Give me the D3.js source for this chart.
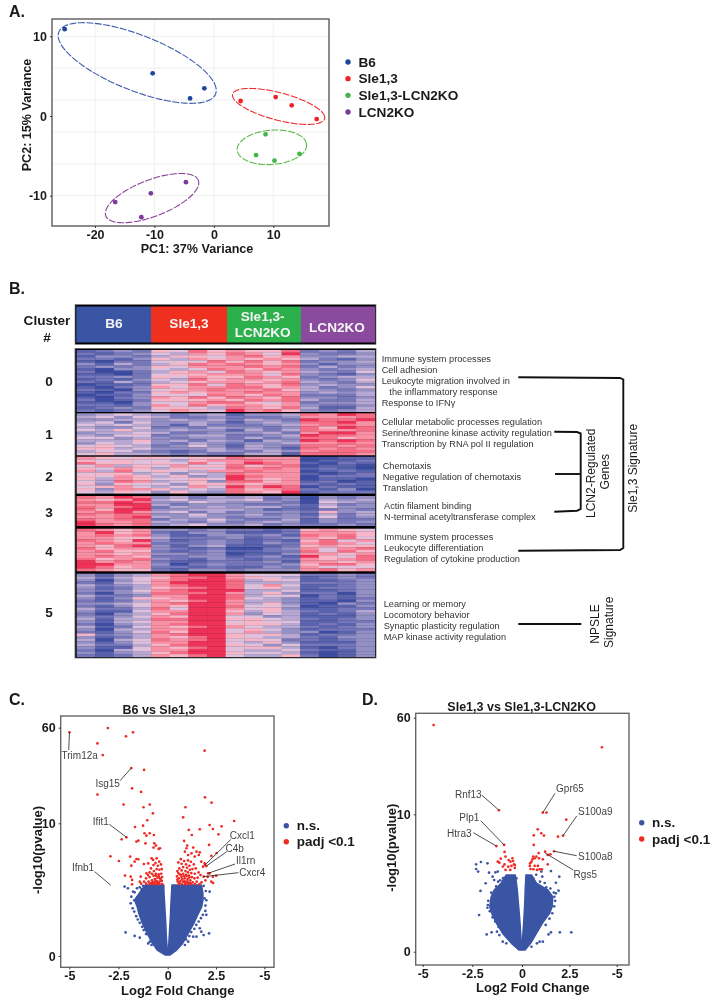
<!DOCTYPE html>
<html><head><meta charset="utf-8">
<script src="https://cdn.jsdelivr.net/npm/d3@7"></script>
<style>
html,body{margin:0;padding:0;background:#fff}
svg{display:block;font-family:"Liberation Sans",Arial,sans-serif;filter:blur(0.35px)}
</style></head><body>
<svg id="chart" width="717" height="1000"></svg>
<script>
// ---------- Panel A data ----------
const pcaGroups = ["B6","Sle1,3","Sle1,3-LCN2KO","LCN2KO"];
const pcaColors = ["#1f459f","#ee2326","#43b649","#7d3a98"];
const pcaEllipseColors = ["#3f5bab","#ee2c2c","#5cbb4a","#8d3f9c"];
const pc1 = [[-25.1,-10.3,-4.0,-1.6],[4.5,10.4,13.1,17.3],[8.7,7.1,10.2,14.4],[-4.7,-10.6,-16.6,-12.2]];
const pc2 = [[10.9,5.35,2.2,3.47],[1.88,2.38,1.34,-0.38],[-2.3,-4.9,-5.6,-4.75],[-8.3,-9.7,-10.8,-12.7]];
const ellipseCx = [-12.9,10.9,9.76,-10.4];
const ellipseCy = [6.65,1.2,-3.93,-10.3];
const ellipseW = [13.3,7.77,5.84,7.86];
const ellipseH = [5.06,2.26,2.17,3.09];
const ellipseRho = [-0.68,-0.62,0.12,0.62];
const pcaXTicks = [-20,-10,0,10];
const pcaYTicks = [-10,0,10];
const pcaYGrid = [-10,-6,-2,2,6,10];

// ---------- Panel B data ----------
const headerLabels = [["B6"],["Sle1,3"],["Sle1,3-","LCN2KO"],["LCN2KO"]];
const headerColors = ["#3b55a5","#f0301f","#2bb04c","#8a4b9f"];
const clusterNames = ["0","1","2","3","4","5"];
const heatCluster0 = ["1232 6586 7668 2324","2123 5476 8759 3223","1332 4665 7867 3344","2213 6476 7676 4213","1022 5558 6868 2334","3142 4687 8767 3133","2323 6577 7878 2423","1033 5458 7687 3234","2002 4675 8767 4325","1102 5667 7758 3213","2232 6576 6876 2344","1213 5486 7767 3235","2142 4567 7678 4324","0112 6685 8768 3433","1023 7577 8867 4235","2103 5678 7786 4323","1022 6767 7877 3434","0113 5558 7687 2224","1023 7686 8768 3323","2012 6667 6878 4224","1103 5578 8657 2334","2213 7586 7767 3223","1232 6654 8768 4114","2123 5765 9786 3234"];
const heatCluster1 = ["3454 3234 1334 8798","4535 4223 2223 7778","3344 3434 2432 9889","4525 3343 1343 8897","5454 3142 2234 7887","4335 2324 3323 8698","5464 3433 1424 8778","3445 4223 3342 7997","4355 2344 2234 9887","5534 3233 2423 8867","4446 3424 3143 9898","3545 3243 2334 7787","5654 2353 1432 8878","6645 3334 2431 8787","4553 2124 3243 7888","5644 3232 2441 8887"];
const heatCluster2 = ["7656 6566 8777 0011","6565 5467 7877 0112","8665 6585 7987 1021","5746 5756 8678 0110","6576 4665 8787 1210","7485 6547 7877 0121","5664 5354 8777 1012","6576 4634 9877 0222","6476 5565 9767 0110","5487 4563 8867 1201","6365 5366 7677 2121","5675 4575 9798 0211","6377 6454 8678 2130","5465 3643 8769 1222"];
const heatCluster3 = ["8798 3424 3423 0323","7679 4534 4523 0434","8898 3354 3332 0543","7799 4233 3223 1423","8789 2434 3442 1533","8699 3344 4312 1232","7897 4524 2333 2634","8788 3353 3423 1424","7789 4343 2333 2523","8788 2435 3224 1322","9778 4324 2343 1323","9878 3453 3423 2232"];
const heatCluster4 = ["8767 3323 2212 6765","7967 2133 1112 7776","7878 3113 3231 8786","7766 4222 3123 7685","8769 3123 2121 6857","7877 2223 2132 7875","7689 3134 1112 6766","8677 3212 0023 7578","7866 2123 1122 8586","7767 3323 0113 7767","7876 2233 1231 9658","8678 3213 2122 7678","9787 2112 2231 7767","9977 3023 2223 6886","9867 2212 1132 7555","8766 2133 2333 7867"];
const heatCluster5 = ["3134 7899 7555 2232","4245 6889 7654 1232","3035 7899 8465 1123","2145 7999 8444 2223","4234 7899 8575 1123","3124 6789 8564 1223","3235 7899 9445 1123","2034 8889 7463 2203","4223 7799 8455 0213","3136 6799 8543 1212","2124 7689 7443 1103","3345 7899 7463 1032","2135 7699 8554 0113","4224 8599 7563 1122","3115 7799 6464 2124","2034 6899 7354 1213","3235 7699 5534 1113","4144 8899 6654 2123","3145 7799 5655 1122","2034 7899 6664 1213","4125 7689 7544 2123","3044 7799 5653 1222","2135 8699 5743 3013","6234 7899 6564 1223","3124 7689 6544 2133","4045 8789 5652 2123","3135 7799 5463 1113","4224 6899 6535 2223","3115 7689 5664 1023","2045 7799 5445 2113","3134 6899 6554 1013","2124 7689 5446 2013"];
const heatLevels = [0,1,2,3,4,5,6,7,8,9];
const heatColors = ["#3d4ea4","#5a63ae","#7676ba","#9490c5","#b7a8d3","#dfc1dd","#f6b6c8","#f991a6","#f66e86","#ef3058"];
const goTerms = [
 ["Immune system processes","Cell adhesion","Leukocyte migration involved in","   the inflammatory response","Response to IFNγ"],
 ["Cellular metabolic processes regulation","Serine/threonine kinase activity regulation","Transcription by RNA pol II regulation"],
 ["Chemotaxis","Negative regulation of chemotaxis","Translation"],
 ["Actin filament binding","N-terminal acetyltransferase complex"],
 ["Immune system processes","Leukocyte differentiation","Regulation of cytokine production"],
 ["Learning or memory","Locomotory behavior","Synaptic plasticity regulation","MAP kinase activity regulation"]];

// ---------- Panels C, D data ----------
const volcanoXTicks = [-5,-2.5,0,2.5,5];
const volcanoXTickLabels = ["-5","-2.5","0","2.5","-5"];
const volcanoYTicks = [0,10,60];
const cMassY = [5.35,4.72,4.22,3.72,3.22,2.46,1.71,0.95,0.45,0.08];
const cMassLeftOuter = [-1.13,-1.45,-1.68,-1.55,-1.47,-1.28,-1.04,-0.77,-0.53,-0.14];
const cMassLeftInner = [-0.2,-0.19,-0.17,-0.15,-0.13,-0.1,-0.08,-0.05,-0.02,0];
const cMassRightInner = [0.22,0.2,0.18,0.16,0.15,0.12,0.09,0.06,0.02,0];
const cMassRightOuter = [1.74,1.82,1.82,1.76,1.59,1.35,1.06,0.77,0.46,0.12];
const cBlue = [[-2.14,1.78],[-1.68,1.51],[-1.42,1.38],[-0.91,1.08],[-0.82,0.83],[-0.99,0.95],[1.66,2.09],[1.74,1.83],[1.86,1.58],[2.14,1.71],[1.49,1.46],[1.32,1.46],[1.06,1.08],[0.89,0.83],[-2.19,5.23],[-2.02,5.1],[-1.76,4.85],[-1.85,4.47],[-1.59,4.1],[-1.88,3.97],[1.97,4.9],[2.17,4.85],[1.74,5.1],[1.91,4.35],[-1.56,5.1],[-1.68,4.8],[-1.42,5.18],[-1.25,5.28],[1.86,5.28],[1.57,5.28],[1.66,5.1],[-1.3,4.9],[-1.45,4.55],[-1.7,4.2],[2.0,4.2],[1.95,3.8],
[-1.78,3.6],[-1.7,3.35],[-1.6,3.0],[-1.52,2.75],[-1.42,2.5],[-1.3,2.2],[-1.22,1.95],[-1.1,1.65],[1.95,3.4],[1.82,3.1],[1.72,2.85],[1.6,2.6],[1.48,2.35],[1.38,2.05],[1.22,1.8],[1.12,1.5],[0.95,1.25],[-0.85,1.3],[2.0,3.1],[-1.55,4.4],[-1.33,5.05],[1.45,5.25],[1.3,5.28],[-1.1,5.25]];
const cRed = [[-4.99,57.6],[-3.04,59.8],[-2.12,55.5],[-1.76,57.6],[-3.57,51.8],[1.91,48],[-3.3,45.7],[-1.85,38.9],[-1.2,37.9],[-1.81,28.3],[-1.35,26.4],[-3.57,25],[1.93,23.6],[2.27,20.8],[-2.24,19.8],[-1.23,18.4],[-0.91,19.8],[0.92,18.4],[-0.75,15.2],[0.8,13.1],[3.44,11.2],[-1.04,11.6],
[-1.25,9.82],[-1.66,9.72],[2.79,9.77],[2.17,9.87],[2.34,9.57],[1.09,9.5],[1.66,9.55],[1.25,9.12],[2.63,9.17],[-2.1,8.94],[-2.34,8.79],[-1.18,9.25],[-0.91,9.25],[-0.7,9.12],[-1.08,9.07],[-1.59,8.62],[-1.49,8.69],[-1.13,8.49],[-0.68,8.49],[-0.6,8.32],[-0.72,8.17],[-0.46,8.07],[-0.39,8.12],[1.01,8.32],[0.85,8.67],[2.14,8.37],[1.32,8.17],[1.49,7.86],[1.66,7.81],[2.53,7.76],[2.26,7.54],[0.97,8.12],[1.23,7.74],[0.89,7.86],[1.06,7.61],[1.4,7.49],[1.61,7.61],[-2.91,7.51],[-1.91,7.49],[-2.48,7.16],[-1.59,7.31],[-1.49,7.29],[-1.68,7.11],[-1.85,6.81],[-2.17,6.06],[-1.88,5.98],[-1.81,5.73],[-1.81,5.4],[-1.37,5.98],[-1.42,5.6],[-1.21,6.93],[-1.08,6.23],[-0.99,6.98],[-0.82,7.36],[-0.74,7.24],[-0.56,7.36],[-0.43,7.11],
[2.51,6.05],[2.34,5.98],[2.07,5.96],[2.17,6.23],[1.74,7.11],[1.91,6.98],[1.83,6.73],[1.93,6.86],[2.0,6.78],[2.09,6.23],[1.86,5.98],[2.26,5.6],[2.35,5.5],[1.75,5.55],[1.95,5.7],[1.55,5.9],[1.6,6.3],[1.7,6.1],[1.45,6.6],[1.35,6.9],[1.2,7.1],[1.05,7.2],[0.85,7.15],[0.68,7.3],[0.55,7.05],[0.72,6.95],[0.95,6.9],[1.12,6.8],[1.28,6.55],[1.15,6.5],[1.0,6.65],[0.8,6.7],[0.6,6.6],[0.5,6.4],[0.72,6.45],[0.92,6.4],[1.05,6.3],[1.22,6.25],[1.4,6.2],[1.5,5.6],[1.38,5.85],[1.25,5.95],[1.1,6.05],[0.95,6.12],[0.8,6.2],[0.62,6.15],[0.48,6.0],[0.58,5.85],[0.72,5.95],[0.88,5.85],[1.03,5.8],[1.17,5.7],[1.3,5.55],[1.1,5.5],[0.95,5.55],[0.8,5.6],[0.66,5.65],[0.52,5.6],[0.58,5.42],[0.74,5.42],[0.9,5.42],[1.05,5.42],[1.2,5.42],[1.42,5.42],[1.65,5.42],
[-1.35,5.45],[-1.2,5.6],[-1.1,5.85],[-1.0,6.1],[-0.92,6.3],[-0.85,6.6],[-0.72,6.85],[-0.62,7.0],[-0.5,6.8],[-0.34,6.9],[-0.3,6.55],[-0.42,6.5],[-0.56,6.55],[-0.7,6.4],[-0.8,6.2],[-0.92,5.95],[-0.72,6.05],[-0.6,6.2],[-0.46,6.15],[-0.33,6.2],[-0.28,5.95],[-0.4,5.85],[-0.52,5.9],[-0.66,5.8],[-0.8,5.7],[-0.97,5.6],[-1.1,5.45],[-0.92,5.42],[-0.78,5.42],[-0.66,5.55],[-0.55,5.62],[-0.42,5.6],[-0.3,5.65],[-0.28,5.42],[-0.42,5.42],[-0.55,5.42],[-0.68,5.42],
[0.5,5.75],[0.62,5.52],[0.75,5.78],[0.88,5.62],[1.02,5.62],[1.16,5.52],[0.85,6.02],[0.98,6.02],[0.7,6.1],[0.55,6.25],[1.12,5.92],[-0.5,5.5],[-0.62,5.72],[-0.75,5.55],[-0.35,5.75],[-0.45,6.0],[-0.6,6.05],[-0.85,5.5]];
const cLabels = ["Trim12a","Isg15","Ifit1","Ifnb1","Cxcl1","C4b","Il1rn","Cxcr4"];
const cTipX = [-4.99,-1.85,-2.09,-2.89,1.93,2.0,2.09,1.86];
const cTipY = [57.6,38.9,8.94,5.33,6.86,6.78,6.23,5.98];
const dMassY = [5.58,4.98,4.49,4.0,3.28,2.79,2.06,1.33,0.61,0.12];
const dMassLeftOuter = [-0.79,-1.05,-1.4,-1.55,-1.62,-1.52,-1.28,-0.97,-0.53,-0.14];
const dMassLeftInner = [-0.34,-0.28,-0.24,-0.21,-0.17,-0.14,-0.1,-0.07,-0.03,0];
const dMassRightInner = [0.21,0.19,0.17,0.16,0.14,0.12,0.09,0.05,0.02,0];
const dMassRightOuter = [0.5,0.76,1.36,1.62,1.59,1.45,1.07,0.76,0.45,0.16];
const dBlue = [[-2.31,6.36],[-2.07,6.53],[-2.31,6.02],[-2.21,5.83],[-1.66,5.75],[-1.74,6.43],[-1.34,5.78],[-1.22,5.83],[-1.48,5.46],[-1.4,5.22],[-1.83,4.98],[-2.09,4.42],[-1.74,3.2],[-2.16,2.67],[-1.53,1.41],[-1.78,1.26],[-1.26,1.46],[-1.14,1.21],[-0.97,0.73],[-0.79,0.61],[1.53,1.41],[1.4,1.26],[2.0,1.41],[2.6,1.41],[1.1,0.73],[0.93,0.73],[0.79,0.61],[0.5,0.36],[1.53,5.87],[1.07,5.46],[1.97,5.46],[1.79,5.02],[1.93,4.44],[1.71,4.0],[1.28,4.68],[1.02,5.83],[-0.28,5.34],[-0.45,5.22],[-0.74,5.29],[0.41,5.46],[0.59,5.34],[1.28,4.25],[1.79,4.25],[-1.2,5.1],[0.75,5.6],[0.95,5.1],
[-1.3,4.75],[-1.55,4.3],[-1.7,3.7],[-1.72,3.4],[-1.62,2.95],[-1.48,2.5],[-1.35,2.2],[-1.18,1.8],[1.2,5.0],[1.5,4.6],[1.68,4.3],[1.75,3.7],[1.7,3.3],[1.6,2.8],[1.45,2.4],[1.25,1.95],[-0.95,5.35],[-1.1,5.2]];
const dRed = [[-4.45,56.2],[4.22,44.7],[-1.16,12.1],[1.10,10.9],[1.29,10.9],[2.34,9.61],[0.83,8.91],[1.02,8.62],[1.16,8.45],[0.62,8.47],[1.9,8.37],[2.17,8.45],[0.62,7.77],[-0.9,7.77],[-1.29,7.69],[1.69,7.31],[1.22,7.28],[0.88,7.18],[-0.88,7.26],[1.36,7.04],[1.5,7.09],[1.1,6.72],[0.76,6.92],[0.59,6.92],[0.67,6.8],[0.55,6.72],[0.43,6.43],[0.41,6.24],[0.5,6.55],[0.9,6.8],[1.36,6.36],[1.05,6.0],[0.67,6.24],[0.84,6.24],[0.45,6.02],[0.6,6.0],[0.79,5.95],[0.93,6.0],[-1.07,6.77],[-1.14,6.48],[-1.22,6.55],[-0.83,6.92],[-0.67,6.67],[-0.48,6.8],[-0.45,6.6],[-0.58,6.55],[-0.4,6.36],[-0.53,6.24],[-0.36,6.31],[-0.88,6.36],[-0.69,6.19],[-0.83,5.95],[-0.59,5.95],[-0.36,6.1],[-0.96,6.2]];
const dLabels = ["Rnf13","Gpr65","S100a9","Plp1","Htra3","S100a8","Rgs5"];
const dTipX = [-1.16,1.10,2.17,-0.9,-1.29,1.69,1.22];
const dTipY = [12.1,10.9,8.45,7.77,7.69,7.31,7.18];

// ---------- Layout (pixels) ----------
const blue="#3b55a5", red="#ee2a24", frame="#666";
const svg=d3.select("#chart");
svg.append("defs").append("filter").attr("id","heatBlur").attr("x",0).attr("y",0).attr("width",1).attr("height",1)
  .append("feGaussianBlur").attr("stdDeviation","0.3 0.55");
function text(g,x,y,s,o={}){
  return g.append("text").attr("x",x).attr("y",y).attr("dy",".35em")
    .attr("text-anchor",o.anchor||"start").attr("font-size",o.size||12)
    .attr("font-weight",o.weight||"400").attr("fill",o.fill||"#1a1a1a")
    .attr("transform",o.rot?`rotate(${o.rot} ${x} ${y})`:null)
    .style("white-space","pre").text(s);
}
function panelLetter(x,y,s){text(svg,x,y,s,{size:16,weight:"700"});}
panelLetter(9,11.5,"A.");panelLetter(9,288,"B.");panelLetter(9,699,"C.");panelLetter(362,699,"D.");

const hyphen=d=>String(d);
function styleAxis(g,size){
  g.attr("font-family",null).attr("font-size",null);
  g.select(".domain").remove();
  g.selectAll(".tick line").attr("stroke","#333");
  g.selectAll(".tick text").attr("font-size",size).attr("font-weight","700").attr("fill","#1a1a1a");
}

// ---------- Panel A ----------
(function(){
  const box={l:52,r:329,t:19,b:226};
  const x=d3.scaleLinear().domain([-20,10]).range([95,273.3]);
  const y=d3.scaleLinear().domain([-10,10]).range([195.7,36.3]);
  const g=svg.append("g");
  g.append("g").selectAll("line").data(pcaXTicks).join("line")
    .attr("x1",d=>x(d)).attr("x2",d=>x(d)).attr("y1",box.t).attr("y2",box.b).attr("stroke","#f0f0f0");
  g.append("g").selectAll("line").data(pcaYGrid).join("line")
    .attr("x1",box.l).attr("x2",box.r).attr("y1",d=>y(d)).attr("y2",d=>y(d)).attr("stroke","#f0f0f0");
  g.append("rect").attr("x",box.l).attr("y",box.t).attr("width",box.r-box.l).attr("height",box.b-box.t)
    .attr("fill","none").attr("stroke",frame).attr("stroke-width",1.5);
  const ts=d3.range(0,2*Math.PI+0.01,0.05);
  const line=d3.line().x(d=>d[0]).y(d=>d[1]).curve(d3.curveCardinalClosed);
  pcaGroups.forEach((name,i)=>{
    const s=Math.sqrt(1-ellipseRho[i]*ellipseRho[i]);
    const pts=ts.slice(0,-1).map(t=>[x(ellipseCx[i]+ellipseW[i]*Math.cos(t)),
      y(ellipseCy[i]+ellipseH[i]*(ellipseRho[i]*Math.cos(t)+s*Math.sin(t)))]);
    g.append("path").attr("d",line(pts)).attr("fill","none").attr("stroke",pcaEllipseColors[i])
      .attr("stroke-width",1.1).attr("stroke-dasharray","7,1.5");
    g.append("g").selectAll("circle").data(pc1[i]).join("circle")
      .attr("cx",d=>x(d)).attr("cy",(d,j)=>y(pc2[i][j])).attr("r",2.4).attr("fill",pcaColors[i]);
  });
  const ax=g.append("g").attr("transform",`translate(0,${box.b})`)
    .call(d3.axisBottom(x).tickValues(pcaXTicks).tickFormat(hyphen).tickSize(2).tickPadding(2));
  styleAxis(ax,12.5);
  const ay=g.append("g").attr("transform",`translate(${box.l},0)`)
    .call(d3.axisLeft(y).tickValues(pcaYTicks).tickFormat(hyphen).tickSize(2).tickPadding(3));
  styleAxis(ay,12.5);
  text(g,197,249,"PC1: 37% Variance",{anchor:"middle",size:12.6,weight:"700"});
  text(g,27,115,"PC2: 15% Variance",{anchor:"middle",size:12.6,weight:"700",rot:-90});
  const legY=d3.scalePoint().domain(pcaGroups).range([62,112]);
  pcaGroups.forEach((n,i)=>{
    g.append("circle").attr("cx",348).attr("cy",legY(n)).attr("r",2.7).attr("fill",pcaColors[i]);
    text(g,358.5,legY(n),n,{size:13.6,weight:"700"});
  });
})();

// ---------- Panel B ----------
(function(){
  const g=svg.append("g");
  const colX=d3.scaleBand().domain(d3.range(16)).range([76.7,374.7]);
  const color=d3.scaleLinear().domain(heatLevels).range(heatColors);
  g.append("rect").attr("x",75).attr("y",304.5).attr("width",301).attr("height",40).attr("fill","#000").attr("stroke","#888").attr("stroke-width",.7);
  const hx=[76.3,151,227,301,375];
  headerColors.forEach((c,i)=>g.append("rect").attr("x",hx[i]).attr("y",306.5).attr("width",hx[i+1]-hx[i]).attr("height",36).attr("fill",c));
  const hcx=[114,189,262.7,337],hcy=[[323],[323],[316.7,332.7],[327]];
  headerLabels.forEach((ls,i)=>ls.forEach((s,j)=>text(g,hcx[i],hcy[i][j],s,{anchor:"middle",size:13.6,weight:"700",fill:"#f4f4f4"})));
  text(g,47,320,"Cluster",{anchor:"middle",size:13.6,weight:"700"});
  text(g,47,337,"#",{anchor:"middle",size:13.6,weight:"700"});
  g.append("rect").attr("x",75).attr("y",348.5).attr("width",301).attr("height",309.5).attr("fill","#000").attr("stroke","#666").attr("stroke-width",.8);
  const bands=[[350,411.7],[413.3,455],[456.7,493.3],[496,525.7],[528.7,571],[573.7,656.7]];
  const clusters=[heatCluster0,heatCluster1,heatCluster2,heatCluster3,heatCluster4,heatCluster5];
  const numY=[381.7,434,476,512,551.7,612.7];
  clusters.forEach((rows,k)=>{
    const rowY=d3.scaleBand().domain(d3.range(rows.length)).range(bands[k]);
    const cg=g.append("g").attr("filter","url(#heatBlur)");
    rows.forEach((r,ri)=>{
      const vals=r.replace(/ /g,"").split("").map(Number);
      cg.append("g").selectAll("rect").data(vals).join("rect")
        .attr("x",(d,j)=>colX(j)).attr("y",rowY(ri))
        .attr("width",colX.bandwidth()+.3).attr("height",rowY.bandwidth()+.3)
        .attr("fill",d=>color(d));
    });
    text(g,49,numY[k],clusterNames[k],{anchor:"middle",size:13.6,weight:"700"});
  });
  const termX=[381.7,381.7,382.7,384,384,383.7];
  const termY=[[358.7,369.7,380.7,391.7,402.7],[422,433,444],[466,477,488],[505.7,516.7],[537,548,559],[604,615,626,637]];
  goTerms.forEach((ls,i)=>ls.forEach((s,j)=>text(g,termX[i],termY[i][j],s,{size:9.2,fill:"#333"})));
  const bl=d3.line().x(d=>d[0]).y(d=>d[1]);
  const brk=[
    [[518.3,377.3],[620,378],[623.3,379.5],[623.3,548],[620,550],[518.3,550.7]],
    [[554.3,431.7],[577,432],[580.7,433.5],[580.7,509],[577,510.7],[554.3,511.7]],
    [[555,474],[580.7,474]],
    [[518.3,624],[581.3,624]]];
  brk.forEach(p=>g.append("path").attr("d",bl(p)).attr("fill","none").attr("stroke","#111").attr("stroke-width",1.9));
  text(g,632.3,468.3,"Sle1,3 Signature",{anchor:"middle",size:12,rot:-90});
  text(g,591,473.3,"LCN2-Regulated",{anchor:"middle",size:12,rot:-90});
  text(g,605.3,471.7,"Genes",{anchor:"middle",size:12,rot:-90});
  text(g,595.3,624,"NPSLE",{anchor:"middle",size:12,rot:-90});
  text(g,608.7,622.3,"Signature",{anchor:"middle",size:12,rot:-90});
})();

// ---------- Volcano panels ----------
function volcano(o){
  const g=svg.append("g");
  const x=d3.scaleLinear().domain([-5,0,5]).range(o.xr);
  const y=d3.scaleLinear().domain([0,10,60]).range(o.yr);
  g.append("rect").attr("x",o.box.l).attr("y",o.box.t).attr("width",o.box.r-o.box.l).attr("height",o.box.b-o.box.t)
    .attr("fill","#fff").attr("stroke",frame).attr("stroke-width",1.4);
  const area=d3.area().y(d=>y(d[0])).x0(d=>x(d[1])).x1(d=>x(d[2])).curve(d3.curveLinear);
  const lobe=(a,b)=>o.massY.map((v,i)=>[v,a[i],b[i]]);
  [lobe(o.leftOuter,o.leftInner),lobe(o.rightInner,o.rightOuter)].forEach(d=>
    g.append("path").attr("d",area(d)).attr("fill",blue).attr("stroke",blue).attr("stroke-width",1.6).attr("stroke-linejoin","round"));
  g.append("g").selectAll("circle").data(o.blue).join("circle")
    .attr("cx",d=>x(d[0])).attr("cy",d=>y(d[1])).attr("r",1.35).attr("fill",blue);
  g.append("g").selectAll("circle").data(o.red).join("circle")
    .attr("cx",d=>x(d[0])).attr("cy",d=>y(d[1])).attr("r",1.35).attr("fill",red);
  const ax=g.append("g").attr("transform",`translate(0,${o.box.b})`)
    .call(d3.axisBottom(x).tickValues(volcanoXTicks).tickFormat((d,i)=>volcanoXTickLabels[i]).tickSize(2).tickPadding(2));
  styleAxis(ax,12.5);
  const ay=g.append("g").attr("transform",`translate(${o.box.l},0)`)
    .call(d3.axisLeft(y).tickValues(volcanoYTicks).tickSize(2).tickPadding(3));
  styleAxis(ay,12.5);
  text(g,o.title[1],o.title[2],o.title[0],{anchor:"middle",size:12.5,weight:"700"});
  text(g,o.xt[0],o.xt[1],"Log2 Fold Change",{anchor:"middle",size:13,weight:"700"});
  text(g,o.yt[0],o.yt[1],"-log10(pvalue)",{anchor:"middle",size:13,weight:"700",rot:-90});
  o.labels.forEach((s,i)=>{
    g.append("line").attr("x1",x(o.tipX[i])).attr("y1",y(o.tipY[i])).attr("x2",o.lineEnd[i][0]).attr("y2",o.lineEnd[i][1]).attr("stroke","#222").attr("stroke-width",.8);
    text(g,o.labelPos[i][0],o.labelPos[i][1],s,{anchor:"middle",size:10,fill:"#444"});
  });
  [["n.s.",blue,0],["padj <0.1",red,1]].forEach(([s,c,i])=>{
    g.append("circle").attr("cx",o.leg[0]).attr("cy",o.leg[1]+i*o.leg[3]).attr("r",2.7).attr("fill",c);
    text(g,o.leg[2],o.leg[1]+i*o.leg[3],s,{size:13.5,weight:"700"});
  });
}
volcano({box:{l:60.7,r:274,t:716,b:967.3},xr:[69.3,167.7,264.3],yr:[956,823.3,727.7],
  massY:cMassY,leftOuter:cMassLeftOuter,leftInner:cMassLeftInner,rightInner:cMassRightInner,rightOuter:cMassRightOuter,
  blue:cBlue,red:cRed,title:["B6 vs Sle1,3",159,710],xt:[177.7,990],yt:[37.7,850],
  labels:cLabels,tipX:cTipX,tipY:cTipY,
  lineEnd:[[68.7,750],[120,780.7],[109.3,824.3],[94.7,871.7],[231,839.3],[226.7,851.7],[235,864],[238.3,872.7]],
  labelPos:[[79.7,755],[107.7,783.3],[100.7,821.7],[83,867],[242.3,835.7],[234.7,848.3],[245.7,860.7],[252.3,872.3]],
  leg:[286.3,825.7,296.7,16]});
volcano({box:{l:415.7,r:629,t:713.3,b:965},xr:[422.7,522,616.7],yr:[951.7,814.3,717.7],
  massY:dMassY,leftOuter:dMassLeftOuter,leftInner:dMassLeftInner,rightInner:dMassRightInner,rightOuter:dMassRightOuter,
  blue:dBlue,red:dRed,title:["Sle1,3 vs Sle1,3-LCN2KO",521.7,707],xt:[532.7,987],yt:[391,847.7],
  labels:dLabels,tipX:dTipX,tipY:dTipY,
  lineEnd:[[481.7,795],[555,793.3],[576.7,816],[480.7,820.7],[473.3,832.7],[576.7,855.7],[573.3,870]],
  labelPos:[[468.3,794.7],[570,788],[595.3,811],[469.3,817],[459.3,833.3],[595.3,856.3],[585.3,874.7]],
  leg:[641.7,822.7,652,16.3]});
</script></body></html>
